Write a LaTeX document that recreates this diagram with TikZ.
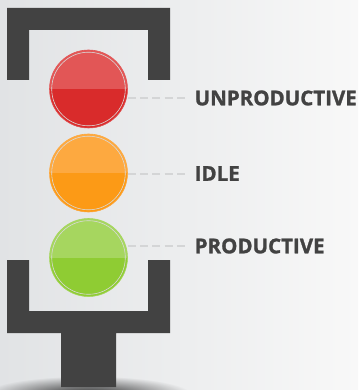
\documentclass[tikz,border=0pt]{standalone}
\usepackage{fontspec}
\setmainfont{Open Sans}[BoldFeatures={FakeBold=1.3}]
\usetikzlibrary{fadings}
\definecolor{frame}{HTML}{424242}
\definecolor{leader}{HTML}{D4D5D6}
\definecolor{bgleft}{HTML}{E1E3E5}
\definecolor{bgright}{HTML}{F8F8F8}
\definecolor{redtop}{HTML}{E25656}
\definecolor{redlow}{HTML}{D92B2B}
\definecolor{orangetop}{HTML}{FDA940}
\definecolor{orangelow}{HTML}{FC9A16}
\definecolor{greentop}{HTML}{A6D65F}
\definecolor{greenlow}{HTML}{8FCC33}
\tikzfading[name=groundfade,inner color=transparent!15,outer color=transparent!100]
\begin{document}
\begin{tikzpicture}[x=1pt,y=-1pt,
    lamp/.style 2 args={circle,minimum size=78pt,inner sep=0pt,fill=#1,draw=#1,line width=0.6pt,
      path picture={
        \fill[#2] (path picture bounding box.west) rectangle (path picture bounding box.south east);
        \draw[white!70!gray,line width=0.6pt] (path picture bounding box.center) circle (36.8pt);
      }},
    status/.style={anchor=west,inner sep=0pt,text=frame,font=\bfseries\fontsize{20.5}{24}\selectfont},
    leaderline/.style={leader,line width=2pt,dash pattern=on 8pt off 4.3pt,shorten >=8.5pt}]

    % Background
    \useasboundingbox (0,0) rectangle (358,390);
    \clip (0,0) rectangle (358,390);
    \shade[left color=bgleft,right color=bgright] (0,0) rectangle (358,390);

    % Ground shadow
    \fill[black,path fading=groundfade] (88,395) ellipse (104 and 19);

    % Housing
    \fill[frame] (7,80) -- (7,8) -- (170,8) -- (170,80) -- (148,80) -- (148,30) -- (29,30) -- (29,80) -- cycle;
    \fill[frame] (7,260) -- (29,260) -- (29,311) -- (148,311) -- (148,260) -- (170,260) -- (170,333)
      -- (116,333) -- (116,387) -- (61,387) -- (61,333) -- (7,333) -- cycle;

    % Lamps
    \node[lamp={redtop}{redlow}] (redlamp) at (88.5,89) {};
    \node[lamp={orangetop}{orangelow}] (orangelamp) at (88.5,173) {};
    \node[lamp={greentop}{greenlow}] (greenlamp) at (88.5,257.5) {};

    % Labels
    \node[status] (unproductive) at (194.5,98) {UNPRODUCTIVE};
    \node[status] (idle) at (194.5,173.5) {IDLE};
    \node[status] (productive) at (194.5,246) {PRODUCTIVE};

    % Leaders
    \draw[leaderline] (redlamp.east |- unproductive.west) -- (unproductive.west);
    \draw[leaderline] (orangelamp.east |- idle.west) -- (idle.west);
    \draw[leaderline] (greenlamp.east |- productive.west) -- (productive.west);

  \end{tikzpicture}
\end{document}
